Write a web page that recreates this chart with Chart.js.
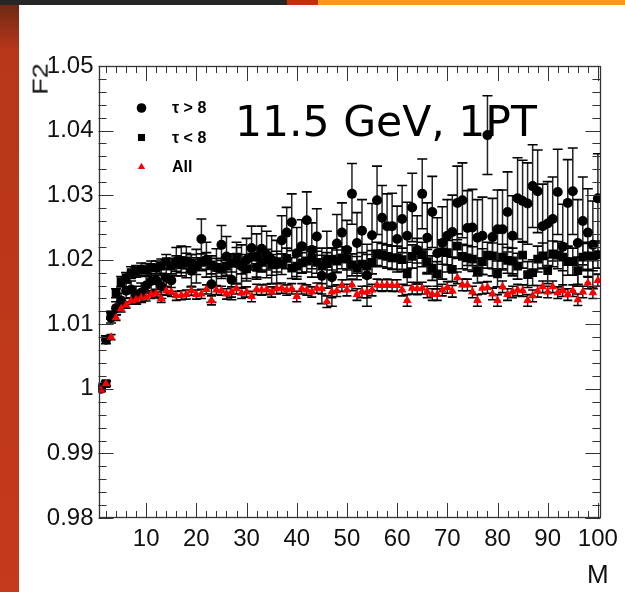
<!DOCTYPE html>
<html>
<head>
<meta charset="utf-8">
<script src="https://cdn.jsdelivr.net/npm/chart.js@4.4.1/dist/chart.umd.min.js"></script>
<style>
  html, body { margin: 0; padding: 0; background: #fff; }
  #wrap { position: relative; width: 625px; height: 592px; overflow: hidden; background: #fff; }
  #topbar { position: absolute; left: 0; top: 0; width: 625px; height: 5px;
    background: linear-gradient(to right, #262626 0, #262626 287px, #c2300e 287px, #c2300e 318px, #f39a1c 318px); }
  #stripe { position: absolute; left: 0; top: 5px; width: 19px; height: 587px;
    background: linear-gradient(to bottom, #6e2a14 0, #b8361a 45px, #c43a1a 100%); }
  #c { position: absolute; left: 0; top: 0; }
  .lbl { position: absolute; font-family: "Liberation Sans", Arial, sans-serif; color: #111; white-space: nowrap; line-height: 1; }
  #note { position: absolute; left: 235px; top: 101px; font-family: "DejaVu Sans", sans-serif; font-size: 42.5px; line-height: 42px; color: #000; white-space: nowrap; }
  #ytitle { left: 41px; top: 79px; font-size: 27px; transform: translate(-50%, -50%) rotate(-90deg) scale(1, 0.8); }
  #xtitle { left: 587px; top: 561px; font-size: 26px; }
</style>
</head>
<body>
<div id="wrap">
  <canvas id="c" width="625" height="592"></canvas>
  <div id="topbar"></div>
  <div id="stripe"></div>
  <div id="note">11.5 GeV, 1PT</div>
  <div id="ytitle" class="lbl">F2</div>
  <div id="xtitle" class="lbl">M</div>
</div>
<script>
/* ── DADOS ── */
const mBins = [
  1,2,3,4,5,6,7,8,9,10,11,12,13,14,15,16,17,18,19,20,
  21,22,23,24,25,26,27,28,29,30,31,32,33,34,35,36,37,38,39,40,
  41,42,43,44,45,46,47,48,49,50,51,52,53,54,55,56,57,58,59,60,
  61,62,63,64,65,66,67,68,69,70,71,72,73,74,75,76,77,78,79,80,
  81,82,83,84,85,86,87,88,89,90,91,92,93,94,95,96,97,98,99,100
];

// tau > 8 (circles)
const tauGt = [
  1.0000,1.0076,1.0110,1.0125,1.0137,1.0152,1.0154,1.0145,1.0149,1.0160,
  1.0167,1.0168,1.0159,1.0172,1.0168,1.0197,1.0198,1.0196,1.0183,1.0190,
  1.0232,1.0200,1.0162,1.0188,1.0223,1.0205,1.0169,1.0195,1.0190,1.0200,
  1.0218,1.0205,1.0217,1.0208,1.0200,1.0193,1.0230,1.0242,1.0258,1.0210,
  1.0221,1.0261,1.0215,1.0236,1.0175,1.0200,1.0173,1.0225,1.0242,1.0215,
  1.0302,1.0226,1.0245,1.0176,1.0238,1.0292,1.0265,1.0252,1.0252,1.0232,
  1.0263,1.0237,1.0281,1.0215,1.0302,1.0234,1.0274,1.0210,1.0226,1.0237,
  1.0243,1.0288,1.0292,1.0249,1.0250,1.0234,1.0237,1.0393,1.0235,1.0247,
  1.0247,1.0274,1.0237,1.0295,1.0291,1.0287,1.0314,1.0306,1.0252,1.0256,
  1.0263,1.0305,1.0220,1.0288,1.0306,1.0226,1.0260,1.0242,1.0223,1.0295
];
const tauGtErr = [
  0.0004,0.0006,0.0008,0.0010,0.0011,0.0012,0.0013,0.0014,0.0015,0.0016,
  0.0017,0.0018,0.0019,0.0020,0.0021,0.0022,0.0023,0.0024,0.0025,0.0026,
  0.0031,0.0027,0.0028,0.0029,0.0030,0.0031,0.0031,0.0032,0.0033,0.0033,
  0.0034,0.0035,0.0035,0.0036,0.0037,0.0037,0.0038,0.0039,0.0044,0.0040,
  0.0041,0.0044,0.0042,0.0043,0.0043,0.0044,0.0045,0.0045,0.0046,0.0046,
  0.0047,0.0047,0.0048,0.0048,0.0049,0.0053,0.0050,0.0050,0.0051,0.0051,
  0.0052,0.0052,0.0053,0.0053,0.0054,0.0054,0.0055,0.0055,0.0056,0.0056,
  0.0057,0.0057,0.0058,0.0058,0.0059,0.0059,0.0060,0.0061,0.0060,0.0061,
  0.0061,0.0062,0.0062,0.0063,0.0063,0.0063,0.0064,0.0064,0.0065,0.0065,
  0.0065,0.0066,0.0066,0.0067,0.0067,0.0067,0.0068,0.0068,0.0068,0.0069
];

// tau < 8 (squares)
const tauLt = [
  1.0003,1.0008,1.0114,1.0148,1.0166,1.0172,1.0180,1.0182,1.0185,1.0184,
  1.0188,1.0187,1.0190,1.0197,1.0190,1.0194,1.0192,1.0198,1.0195,1.0190,
  1.0196,1.0198,1.0192,1.0188,1.0185,1.0190,1.0195,1.0204,1.0193,1.0186,
  1.0204,1.0188,1.0196,1.0200,1.0192,1.0197,1.0193,1.0202,1.0187,1.0190,
  1.0195,1.0198,1.0203,1.0196,1.0190,1.0194,1.0201,1.0198,1.0203,1.0201,
  1.0192,1.0187,1.0193,1.0190,1.0196,1.0209,1.0207,1.0205,1.0203,1.0203,
  1.0200,1.0178,1.0205,1.0214,1.0208,1.0197,1.0187,1.0178,1.0212,1.0211,
  1.0185,1.0221,1.0205,1.0203,1.0201,1.0183,1.0197,1.0207,1.0206,1.0178,
  1.0204,1.0199,1.0198,1.0190,1.0207,1.0177,1.0180,1.0201,1.0206,1.0183,
  1.0209,1.0207,1.0204,1.0197,1.0197,1.0183,1.0204,1.0206,1.0204,1.0208
];
const tauLtErr = [
  0.0003,0.0004,0.0006,0.0007,0.0008,0.0008,0.0009,0.0009,0.0010,0.0010,
  0.0010,0.0011,0.0011,0.0011,0.0012,0.0012,0.0012,0.0012,0.0013,0.0013,
  0.0013,0.0013,0.0014,0.0014,0.0014,0.0014,0.0014,0.0015,0.0015,0.0015,
  0.0015,0.0015,0.0015,0.0016,0.0016,0.0016,0.0016,0.0016,0.0016,0.0016,
  0.0016,0.0017,0.0017,0.0017,0.0017,0.0017,0.0017,0.0017,0.0017,0.0017,
  0.0017,0.0018,0.0018,0.0018,0.0018,0.0018,0.0018,0.0018,0.0018,0.0018,
  0.0018,0.0018,0.0018,0.0019,0.0019,0.0019,0.0019,0.0019,0.0019,0.0019,
  0.0019,0.0019,0.0019,0.0019,0.0019,0.0019,0.0020,0.0020,0.0020,0.0020,
  0.0020,0.0020,0.0020,0.0020,0.0020,0.0020,0.0020,0.0020,0.0020,0.0020,
  0.0020,0.0021,0.0021,0.0021,0.0021,0.0021,0.0021,0.0021,0.0021,0.0021
];

// All (red triangles)
const allTau = [
  0.9998,1.0008,1.0080,1.0110,1.0124,1.0130,1.0136,1.0138,1.0141,1.0142,
  1.0146,1.0148,1.0140,1.0152,1.0150,1.0144,1.0145,1.0146,1.0152,1.0146,
  1.0147,1.0154,1.0137,1.0153,1.0152,1.0147,1.0150,1.0155,1.0148,1.0150,
  1.0143,1.0154,1.0153,1.0154,1.0150,1.0155,1.0156,1.0153,1.0155,1.0143,
  1.0155,1.0153,1.0150,1.0156,1.0155,1.0135,1.0150,1.0152,1.0160,1.0153,
  1.0161,1.0146,1.0150,1.0150,1.0153,1.0161,1.0160,1.0161,1.0160,1.0160,
  1.0153,1.0137,1.0156,1.0155,1.0156,1.0150,1.0146,1.0146,1.0153,1.0157,
  1.0151,1.0172,1.0161,1.0161,1.0150,1.0137,1.0156,1.0157,1.0147,1.0137,
  1.0158,1.0146,1.0150,1.0153,1.0152,1.0137,1.0144,1.0151,1.0158,1.0150,
  1.0158,1.0149,1.0152,1.0146,1.0152,1.0138,1.0150,1.0164,1.0149,1.0168
];
const allTauErr = [
  0.0002,0.0003,0.0004,0.0004,0.0005,0.0005,0.0005,0.0006,0.0006,0.0006,
  0.0006,0.0006,0.0006,0.0007,0.0007,0.0007,0.0007,0.0007,0.0007,0.0007,
  0.0007,0.0007,0.0007,0.0007,0.0007,0.0008,0.0008,0.0008,0.0008,0.0008,
  0.0008,0.0008,0.0008,0.0008,0.0008,0.0008,0.0008,0.0008,0.0008,0.0008,
  0.0008,0.0008,0.0008,0.0008,0.0008,0.0009,0.0009,0.0009,0.0009,0.0009,
  0.0009,0.0009,0.0009,0.0009,0.0009,0.0009,0.0009,0.0009,0.0009,0.0009,
  0.0009,0.0009,0.0009,0.0009,0.0009,0.0009,0.0009,0.0009,0.0009,0.0009,
  0.0009,0.0009,0.0009,0.0009,0.0009,0.0009,0.0009,0.0009,0.0009,0.0009,
  0.0009,0.0009,0.0009,0.0009,0.0009,0.0009,0.0009,0.0009,0.0009,0.0009,
  0.0009,0.0009,0.0009,0.0009,0.0009,0.0009,0.0009,0.0009,0.0009,0.0009
];

const xTicks = [10, 20, 30, 40, 50, 60, 70, 80, 90, 100];
const yTicks = [0.98, 0.99, 1.00, 1.01, 1.02, 1.03, 1.04, 1.05];

const legendItems = [
  { text: "\u03C4 > 8", style: "circle",   color: "#000" },
  { text: "\u03C4 < 8", style: "rect",     color: "#000" },
  { text: "All",        style: "triangle", color: "#ff0000" }
];

function pontos(vals) {
  return mBins.map((m, i) => ({ x: m, y: vals[i] }));
}

/* ── BARRAS DE ERRO ── */
const barrasErro = {
  id: "barrasErro",
  beforeDatasetsDraw(chart) {
    const { ctx, chartArea: a, scales: { x, y } } = chart;
    ctx.save();
    ctx.beginPath();
    ctx.rect(a.left, a.top, a.width, a.height);
    ctx.clip();
    chart.data.datasets.forEach(ds => {
      if (!ds.errors) return;
      const cap = ds.capHalf;
      ds.data.forEach((p, j) => {
        const e = ds.errors[j];
        const px = x.getPixelForValue(p.x);
        const yt = y.getPixelForValue(p.y + e);
        const yb = y.getPixelForValue(p.y - e);
        const py = y.getPixelForValue(p.y);
        ctx.strokeStyle = "#222";
        ctx.lineWidth = 1.5;
        ctx.beginPath();
        ctx.moveTo(px, yt); ctx.lineTo(px, yb);
        ctx.moveTo(x.getPixelForValue(p.x - 0.6), py); ctx.lineTo(x.getPixelForValue(p.x + 0.6), py);
        ctx.stroke();
        ctx.strokeStyle = "#000";
        ctx.lineWidth = 1.6;
        ctx.beginPath();
        ctx.moveTo(px - cap, yt); ctx.lineTo(px + cap, yt);
        ctx.moveTo(px - cap, yb); ctx.lineTo(px + cap, yb);
        ctx.stroke();
      });
    });
    ctx.restore();
  }
};

/* ── MOLDURA, TICKS E LEGENDA ── */
const moldura = {
  id: "moldura",
  afterDraw(chart) {
    const { ctx, chartArea: a, scales: { x, y } } = chart;
    ctx.save();
    ctx.strokeStyle = "#333";
    ctx.lineWidth = 1;
    ctx.beginPath();
    for (let v = 2; v <= 100; v += 2) {
      const px = Math.round(x.getPixelForValue(v)) + 0.5;
      const len = v % 10 === 0 ? 15 : 7;
      ctx.moveTo(px, a.bottom); ctx.lineTo(px, a.bottom - len);
      ctx.moveTo(px, a.top); ctx.lineTo(px, a.top + len);
    }
    for (let i = 0; i <= 35; i++) {
      const py = Math.round(y.getPixelForValue(0.98 + i * 0.002)) + 0.5;
      const len = i % 5 === 0 ? 15 : 8;
      ctx.moveTo(a.left, py); ctx.lineTo(a.left + len, py);
      ctx.moveTo(a.right, py); ctx.lineTo(a.right - len, py);
    }
    ctx.stroke();
    ctx.lineWidth = 1.3;
    ctx.strokeRect(Math.round(a.left) + 0.5, Math.round(a.top) + 0.5,
                   Math.round(a.width) - 1, Math.round(a.height) - 1);

    // legenda
    legendItems.forEach((it, k) => {
      const ly = 108 + k * 29.5;
      ctx.fillStyle = it.color;
      ctx.strokeStyle = it.color;
      const r = it.style === "rect" ? 5 : (it.style === "triangle" ? 4.2 : 4.8);
      Chart.helpers.drawPoint(ctx, { pointStyle: it.style, radius: r, borderWidth: 0 }, 141.5, ly);
      ctx.fillStyle = "#000";
      ctx.font = "bold 16px 'Liberation Sans', Arial, sans-serif";
      ctx.textBaseline = "middle";
      ctx.fillText(it.text, 172, ly + 1);
    });
    ctx.restore();
  }
};

const fonteEixo = { family: "'Liberation Sans', Arial, sans-serif", size: 24 };

new Chart(document.getElementById("c"), {
  type: "scatter",
  data: {
    datasets: [
      { label: "\u03C4 > 8", data: pontos(tauGt), errors: tauGtErr, capHalf: 5,
        pointStyle: "circle", pointRadius: 5, backgroundColor: "#000", borderColor: "#000", borderWidth: 0, order: 2 },
      { label: "\u03C4 < 8", data: pontos(tauLt), errors: tauLtErr, capHalf: 5,
        pointStyle: "rect", pointRadius: 6.2, backgroundColor: "#000", borderColor: "#000", borderWidth: 0, order: 1 },
      { label: "All", data: pontos(allTau), errors: allTauErr, capHalf: 4.5,
        pointStyle: "triangle", pointRadius: 5, backgroundColor: "#ff0000", borderColor: "#ff0000", borderWidth: 0, order: 0 }
    ]
  },
  options: {
    responsive: false,
    animation: false,
    events: [],
    layout: { padding: { left: 0, right: 19, top: 66, bottom: 0 } },
    plugins: { legend: { display: false }, tooltip: { enabled: false } },
    scales: {
      x: {
        type: "linear", min: 0.5, max: 100.5,
        afterBuildTicks: s => { s.ticks = xTicks.map(v => ({ value: v })); },
        afterFit: s => { s.height = 74; },
        grid: { display: false, drawTicks: false },
        border: { display: false },
        ticks: { font: fonteEixo, color: "#111", padding: 7, maxRotation: 0, autoSkip: false }
      },
      y: {
        type: "linear", min: 0.98, max: 1.05,
        afterBuildTicks: s => { s.ticks = yTicks.map(v => ({ value: v })); },
        afterFit: s => { s.width = 98.5; },
        grid: { display: false, drawTicks: false },
        border: { display: false },
        ticks: { font: fonteEixo, color: "#111", padding: 5, autoSkip: false,
                 callback: v => String(+v.toFixed(2)) }
      }
    }
  },
  plugins: [barrasErro, moldura]
});
</script>
</body>
</html>
